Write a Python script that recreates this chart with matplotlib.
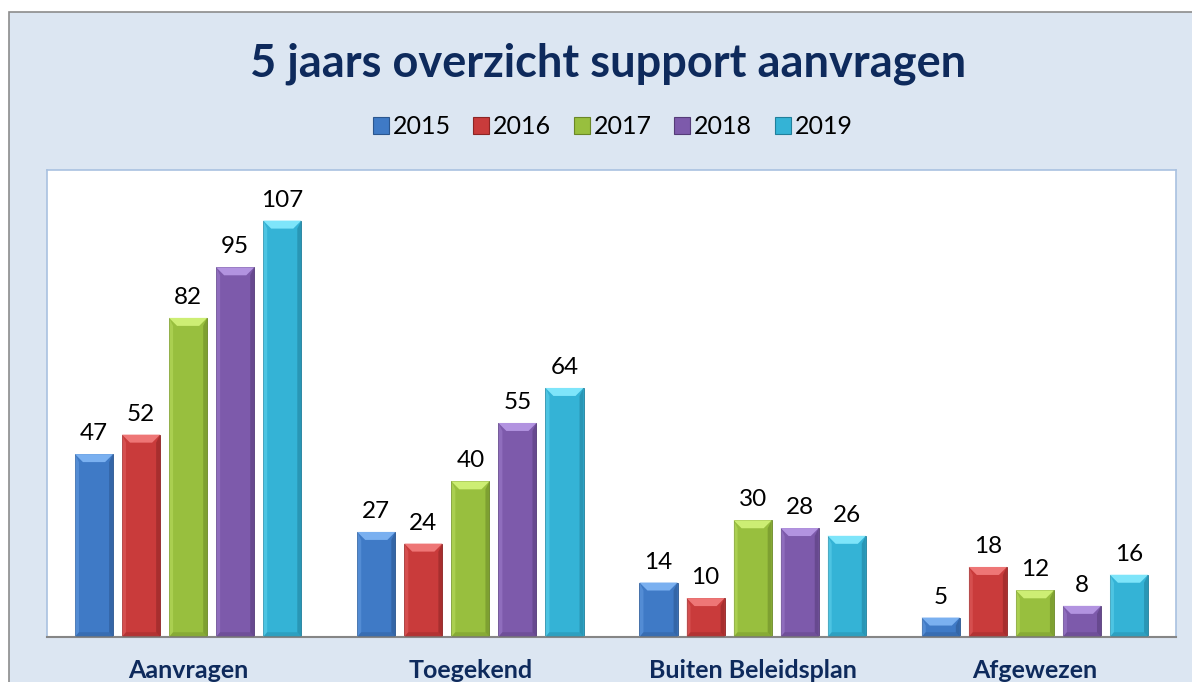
import numpy as np
import matplotlib
matplotlib.use("Agg")
import matplotlib.pyplot as plt
from matplotlib.patches import Rectangle, Polygon, Patch

plt.rcParams['font.family'] = ['Lato', 'DejaVu Sans']

categories = ["Aanvragen", "Toegekend", "Buiten Beleidsplan", "Afgewezen"]
years = ["2015", "2016", "2017", "2018", "2019"]
v2015 = [47, 27, 14, 5]
v2016 = [52, 24, 10, 18]
v2017 = [82, 40, 30, 12]
v2018 = [95, 55, 28, 8]
v2019 = [107, 64, 26, 16]
series = [v2015, v2016, v2017, v2018, v2019]

# base, light (top bevel), dark (edges)
colors = [
    ("#3f7ac6", "#7ab0f0", "#2b568f"),
    ("#c93b3b", "#ee7676", "#8c2525"),
    ("#98bf3e", "#cdee74", "#6a8727"),
    ("#7d5aab", "#b293e0", "#553c78"),
    ("#34b3d6", "#7ee5fa", "#217f9b"),
]

navy = "#0e2a5c"

fig = plt.figure(figsize=(11.92, 6.82), dpi=100)
fig.patch.set_facecolor("white")
W, H = 1192, 682

# chart area background
fig.patches.append(Rectangle((9 / W, -0.05), 1.2, (682 - 12) / H + 0.05,
                             transform=fig.transFigure, facecolor="#dce6f2",
                             edgecolor="#8c8c8c", linewidth=1.2, zorder=-5))

ax = fig.add_axes([47 / W, (682 - 637) / H, (1176 - 47) / W, (637 - 170) / H])
ax.set_facecolor("white")
ax.set_xlim(-0.5, 3.5)
ax.set_ylim(0, 120)

x = np.arange(len(categories))
step = 0.1667
width = 0.135

# pixel -> data conversion for bevel sizes
ux = 1 / ((1176 - 47) / 4.0)
uy = 1 / ((637 - 170) / 120.0)
bev = 8

for i, vals in enumerate(series):
    base, light, dark = colors[i]
    xs = x + (i - 2) * step
    bars = ax.bar(xs, vals, width, color=base, edgecolor=dark, linewidth=0.6, zorder=2)
    for b, v in zip(bars, vals):
        x0 = b.get_x()
        x1 = x0 + b.get_width()
        bx = bev * ux
        by = min(bev * uy, v / 2)
        sx = 4 * ux
        # right side darker
        ax.add_patch(Polygon([(x1, v), (x1, 0), (x1 - sx, by * 0.6), (x1 - sx, v - by)],
                             closed=True, facecolor=dark, alpha=0.55, lw=0, zorder=3))
        # left side lighter
        ax.add_patch(Polygon([(x0, v), (x0, 0), (x0 + sx, by * 0.6), (x0 + sx, v - by)],
                             closed=True, facecolor=light, alpha=0.35, lw=0, zorder=3))
        # bottom darker
        ax.add_patch(Polygon([(x0, 0), (x1, 0), (x1 - sx, by * 0.6), (x0 + sx, by * 0.6)],
                             closed=True, facecolor=dark, alpha=0.35, lw=0, zorder=3))
        # top bevel
        ax.add_patch(Polygon([(x0, v), (x1, v), (x1 - bx, v - by), (x0 + bx, v - by)],
                             closed=True, facecolor=light, lw=0, zorder=3))
        ax.text(b.get_x() + b.get_width() / 2, v + 10 * uy, str(v),
                ha="center", va="bottom", fontsize=17.5, color="black", zorder=4)

for s in ["left", "top", "right"]:
    ax.spines[s].set_color("#a9c1e0")
    ax.spines[s].set_linewidth(1.2)
ax.spines["bottom"].set_color("#868686")
ax.spines["bottom"].set_linewidth(1.5)
ax.set_yticks([])
ax.set_xticks(x)
ax.set_xticklabels(categories, fontsize=18, fontweight="bold", color=navy)
ax.tick_params(axis="x", length=0, pad=16)

fig.text(0.51, (682 - 64) / H, "5 jaars overzicht support aanvragen",
         ha="center", va="center", fontsize=32.5, fontweight="bold", color=navy)

handles = [Patch(facecolor=c[0], edgecolor=c[2], linewidth=0.8) for c in colors]
fig.legend(handles, years, loc="center", bbox_to_anchor=(0.514, (682 - 127) / H),
           ncol=5, frameon=False, fontsize=18, handlelength=0.64, handleheight=0.64,
           handletextpad=0.16, columnspacing=0.9)

fig.savefig("out.png", dpi=100)
